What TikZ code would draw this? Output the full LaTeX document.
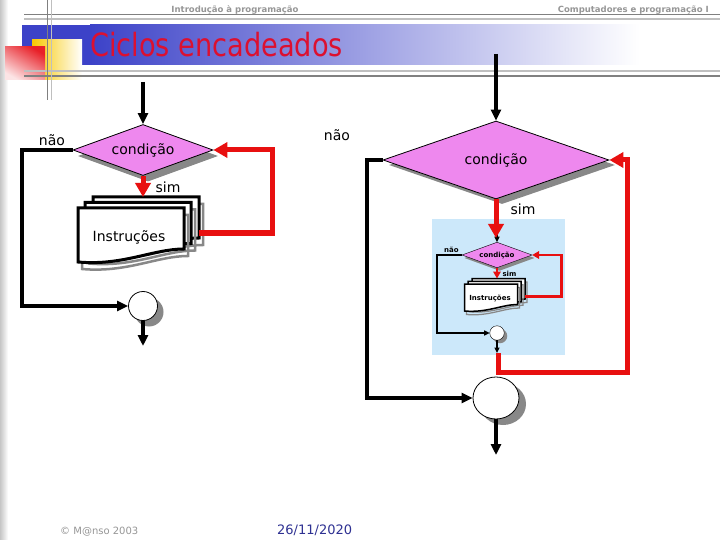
\documentclass[tikz,border=0pt]{standalone}
\usepackage{fontspec}
\setmainfont{DejaVu Sans}
\usepackage{graphicx}
\usetikzlibrary{shapes.geometric,arrows.meta}
\definecolor{pinkc}{RGB}{238,136,238}
\definecolor{redc}{RGB}{232,16,16}
\definecolor{shadowc}{RGB}{136,136,136}
\definecolor{boxc}{RGB}{204,232,250}
\definecolor{titlec}{RGB}{220,16,48}
\definecolor{bandc}{RGB}{60,66,200}
\definecolor{hdrc}{RGB}{150,150,150}
\definecolor{datec}{RGB}{46,49,146}
\definecolor{yelc}{RGB}{248,200,0}
\definecolor{redsq}{RGB}{232,32,40}
\def\lfac{1}
\def\lfont{\fontsize{14}{16}\selectfont}
\tikzset{
  blackline/.style={draw=black, line width=\lfac*4pt},
  blackarrow/.style={blackline, -{Triangle[length=11pt,width=10pt,scale=\lfac]}},
  redline/.style={draw=redc, line width=\lfac*5pt},
  redarrow/.style={redline, -{Triangle[length=14pt,width=15pt,scale=\lfac]}},
  docline/.style={draw=black, line width=\lfac*3pt, fill=white},
  docshadow/.style={draw=shadowc, line width=\lfac*2.5pt},
  lbl/.style={font=\lfont, inner sep=1pt},
}
\def\docshape{(-65,58) -- (41,58) -- (41,99) .. controls (10,99) and (-20,116) .. (-65,112) -- cycle}
\newcommand\loopflow[1]{%
  \node[diamond, fill=shadowc, minimum width=140pt, minimum height=51pt, inner sep=0pt, aspect=2.75] (#1ds) at (5,6) {};
  \node[diamond, draw=black, line width=\lfac*0.8pt, fill=pinkc, minimum width=140pt, minimum height=51pt, inner sep=0pt, aspect=2.75, font=\lfont] (#1d) at (0,0) {condição};
  \foreach \dx/\dy in {15/-11, 7/-5.5, 0/0} {
    \draw[docshadow, shift={(\dx+4,\dy+7)}] \docshape;
    \draw[docline, shift={(\dx,\dy)}] \docshape;
  }
  \node[lbl] (#1doc) at (-14,87) {Instruções};
  \node[circle, fill=shadowc, minimum size=29pt, inner sep=0pt] (#1cs) at (6,162) {};
  \node[circle, draw=black, line width=\lfac*0.8pt, fill=white, minimum size=29pt, inner sep=0pt] (#1c) at (0,156) {};
  \node[lbl] (#1no) at (-91,-10) {não};
  \node[lbl] (#1yes) at (25,37) {sim};
  \coordinate (#1top) at (0,-68);
  \coordinate (#1L) at (-121,0);
  \coordinate (#1docT) at (0,47);
  \coordinate (#1docR) at (56,83);
  \coordinate (#1R) at (129,0);
  \coordinate (#1bot) at (0,196);
  \draw[blackarrow] (#1top) -- (#1d.north);
  \draw[blackarrow] (#1d.west) -- (#1L) |- (#1c.west);
  \draw[redarrow] (#1d.south) -- (#1docT);
  \draw[redarrow] (#1docR) -| (#1R) -- (#1d.east);
  \draw[blackarrow] (#1c.south) -- (#1bot);
}
\begin{document}
\begin{tikzpicture}[x=1pt,y=-1pt]
\useasboundingbox (0,0) rectangle (720,540);
\fill[white] (0,0) rectangle (720,540);
% slide decoration
\shade[left color=gray!45, right color=white] (0,0) rectangle (8,540);
\fill[bandc] (22,25) rectangle (90,65);
\shade[left color=bandc, right color=white] (90,25) rectangle (640,65);
\fill[white] (640,25) rectangle (720,65);
\shade[left color=yelc, right color=white] (32,40) rectangle (82,80);
\shade[top color=redsq, bottom color=redsq!12, shading angle=-30] (5,47) rectangle (45,80);
\draw[draw=gray, line width=1.6pt] (24,14.5) -- (720,14.5);
\draw[draw=gray!50, line width=1.4pt] (24,19) -- (720,19);
\draw[draw=gray!50, line width=1.4pt] (24,71) -- (720,71);
\draw[draw=gray, line width=1.6pt] (24,76) -- (720,76);
\draw[draw=gray, line width=1.6pt] (47.5,0) -- (47.5,100);
\draw[draw=gray!50, line width=1.4pt] (51.5,0) -- (51.5,100);
\node[anchor=base west, inner sep=0pt, text=titlec, font=\fontsize{32}{36}\selectfont] (title) at (90,57) {\scalebox{0.85}[1]{Ciclos encadeados}};
\node[anchor=base, inner sep=0pt, text=hdrc, font=\bfseries\fontsize{8.5}{10}\selectfont] (hl) at (235,12.5) {Introdução à programação};
\node[anchor=base east, inner sep=0pt, text=hdrc, font=\bfseries\fontsize{8.5}{10}\selectfont] (hr) at (709,12.5) {Computadores e programação I};
\node[anchor=base west, inner sep=0pt, text=hdrc, font=\fontsize{10}{12}\selectfont] (copy) at (60,534) {© M@nso 2003};
\node[anchor=base west, inner sep=0pt, text=datec, font=\fontsize{13}{15}\selectfont] (date) at (277,534) {26/11/2020};
% left diagram
\begin{scope}[shift={(143,150)}]
  \loopflow{a}
\end{scope}
% right diagram
\node[diamond, fill=shadowc, minimum width=226pt, minimum height=78pt, inner sep=0pt, aspect=2.9] (bds) at (502,165) {};
\node[diamond, draw=black, line width=0.8pt, fill=pinkc, minimum width=226pt, minimum height=78pt, inner sep=0pt, aspect=2.9, font=\lfont] (bd) at (496,160) {condição};
\node[lbl] (bno) at (337,135) {não};
\node[lbl] (byes) at (523,209) {sim};
\node[fill=boxc, minimum width=133pt, minimum height=136pt, inner sep=0pt] (inbox) at (498.5,287) {};
\begin{scope}[shift={(497,255)}, scale=0.5, transform shape]
  \def\lfac{0.5}
  \def\lfont{\bfseries\fontsize{14}{16}\selectfont}
  \loopflow{c}
\end{scope}
\node[ellipse, fill=shadowc, minimum width=46pt, minimum height=42pt, inner sep=0pt] (bcs) at (503,404) {};
\node[ellipse, draw=black, line width=0.8pt, fill=white, minimum width=46pt, minimum height=42pt, inner sep=0pt] (bc) at (496,398) {};
\coordinate (btop) at (496,54);
\coordinate (btin) at (496,238);
\coordinate (bL) at (367,160);
\coordinate (bredS) at (498,353);
\coordinate (bR) at (627,372);
\coordinate (bbot) at (496,455);
\draw[blackarrow] (btop) -- (bd.north);
\draw[blackarrow] (bd.west) -- (bL) |- (bc.west);
\draw[redarrow] (bd.south) -- (btin);
\draw[redarrow] (bredS) |- (bR) |- (bd.east);
\draw[blackarrow] (bc.south) -- (bbot);
\end{tikzpicture}
\end{document}
